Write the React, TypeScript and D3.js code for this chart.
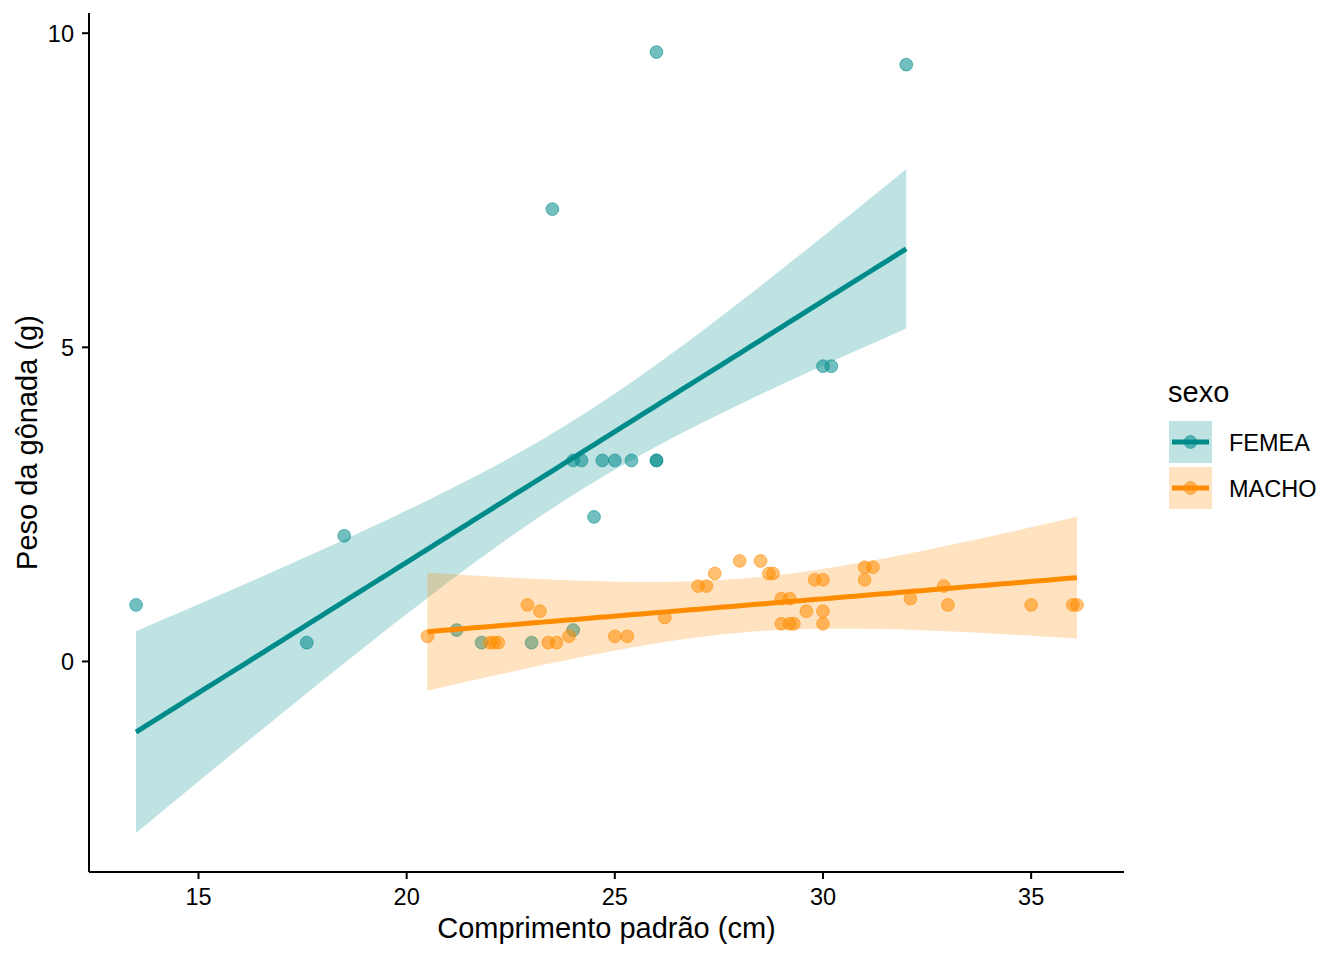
import * as d3 from 'd3'

// Comprimento padrão (cm) x Peso da gônada (g)
const femeaX = [13.5, 17.6, 18.5, 21.2, 21.8, 23.0, 24.0, 23.5, 24.0, 24.2, 24.7, 25.0, 25.4, 26.0, 26.0, 24.5, 26.0, 32.0, 30.0, 30.2]
const femeaY = [0.9, 0.3, 2.0, 0.5, 0.3, 0.3, 0.5, 7.2, 3.2, 3.2, 3.2, 3.2, 3.2, 3.2, 3.2, 2.3, 9.7, 9.5, 4.7, 4.7]

const machoX = [20.5, 22.9, 23.2, 22.0, 22.1, 22.2, 23.4, 23.6, 23.9, 25.0, 25.3, 26.2, 27.0, 27.2, 27.4, 28.0, 28.5, 28.7, 28.8, 29.0, 29.2, 29.0, 29.2, 29.3, 29.6, 29.8, 30.0, 30.0, 30.0, 31.0, 31.2, 31.0, 32.1, 32.9, 33.0, 35.0, 36.0, 36.1]
const machoY = [0.4, 0.9, 0.8, 0.3, 0.3, 0.3, 0.3, 0.3, 0.4, 0.4, 0.4, 0.7, 1.2, 1.2, 1.4, 1.6, 1.6, 1.4, 1.4, 1.0, 1.0, 0.6, 0.6, 0.6, 0.8, 1.3, 1.3, 0.8, 0.6, 1.5, 1.5, 1.3, 1.0, 1.2, 0.9, 0.9, 0.9, 0.9]

const groups = ['FEMEA', 'MACHO']
const colors = ['#008B8B', '#FF8C00']
const xTicks = [15, 20, 25, 30, 35]
const yTicks = [0, 5, 10]

const W = 1344
const H = 960
const panel = { left: 89, right: 1124, top: 13, bottom: 872 }
const FONT = '"Liberation Sans", Arial, Helvetica, sans-serif'

// t quantile (97.5%) via Cornish-Fisher expansion
function tQuant(df: number) {
  const z = 1.959964
  return z + (z ** 3 + z) / (4 * df) + (5 * z ** 5 + 16 * z ** 3 + 3 * z) / (96 * df * df) +
    (3 * z ** 7 + 19 * z ** 5 + 17 * z ** 3 - 15 * z) / (384 * df ** 3)
}

// lm(peso ~ comprimento * sexo): slope per group, one pooled residual variance
function lmFits(sets: { xs: number[]; ys: number[] }[]) {
  let sseAll = 0
  let nAll = 0
  const coefs = sets.map(({ xs, ys }) => {
    const n = xs.length
    const mx = d3.mean(xs)!
    const my = d3.mean(ys)!
    let sxx = 0, sxy = 0
    xs.forEach((x, i) => { sxx += (x - mx) ** 2; sxy += (x - mx) * (ys[i] - my) })
    const b = sxy / sxx
    const a = my - b * mx
    xs.forEach((x, i) => { sseAll += (ys[i] - a - b * x) ** 2 })
    nAll += n
    return { n, mx, sxx, a, b, ext: d3.extent(xs) as [number, number] }
  })
  const df = nAll - 2 * sets.length
  const s = Math.sqrt(sseAll / df)
  const t = tQuant(df)
  return coefs.map(c => d3.range(80).map(i => {
    const x = c.ext[0] + (c.ext[1] - c.ext[0]) * i / 79
    const fit = c.a + c.b * x
    const se = s * Math.sqrt(1 / c.n + (x - c.mx) ** 2 / c.sxx)
    return { x, fit, lo: fit - t * se, hi: fit + t * se }
  }))
}

export default function App() {
  const data = [
    { xs: femeaX, ys: femeaY },
    { xs: machoX, ys: machoY }
  ]
  const fits = lmFits(data)

  const allX = [...femeaX, ...machoX]
  const allY = [...femeaY, ...machoY, ...fits.flat().flatMap(f => [f.lo, f.hi])]
  const [xmin, xmax] = d3.extent(allX) as [number, number]
  const [ymin, ymax] = d3.extent(allY) as [number, number]
  const xe = (xmax - xmin) * 0.05
  const ye = (ymax - ymin) * 0.05

  const x = d3.scaleLinear().domain([xmin - xe, xmax + xe]).range([panel.left, panel.right])
  const y = d3.scaleLinear().domain([ymin - ye, ymax + ye]).range([panel.bottom, panel.top])

  const area = d3.area<{ x: number; lo: number; hi: number }>()
    .x(d => x(d.x)).y0(d => y(d.lo)).y1(d => y(d.hi))
  const line = d3.line<{ x: number; fit: number }>()
    .x(d => x(d.x)).y(d => y(d.fit))

  return (
    <svg width={W} height={H} style={{ position: 'absolute', left: 0, top: 0, background: '#fff' }}
      fontFamily={FONT}>
      <defs>
        <clipPath id="panel">
          <rect x={panel.left} y={panel.top} width={panel.right - panel.left} height={panel.bottom - panel.top} />
        </clipPath>
      </defs>

      <g clipPath="url(#panel)">
        {/* points */}
        {data.map((d, gi) => d.xs.map((v, i) => (
          <circle key={`${gi}-${i}`} cx={x(v)} cy={y(d.ys[i])} r={6.4}
            fill={colors[gi]} fillOpacity={0.55}
            stroke={colors[gi]} strokeOpacity={0.55} strokeWidth={1} />
        )))}
        {/* smooth: ribbon then line, per group */}
        {fits.map((f, gi) => (
          <g key={gi}>
            <path d={area(f)!} fill={colors[gi]} fillOpacity={0.25} />
            <path d={line(f)!} fill="none" stroke={colors[gi]} strokeWidth={5} />
          </g>
        ))}
      </g>

      {/* axes */}
      <line x1={panel.left} x2={panel.left} y1={panel.top} y2={panel.bottom} stroke="#000" strokeWidth={2} />
      <line x1={panel.left} x2={panel.right} y1={panel.bottom} y2={panel.bottom} stroke="#000" strokeWidth={2} />
      {xTicks.map(t => (
        <g key={t}>
          <line x1={x(t)} x2={x(t)} y1={panel.bottom} y2={panel.bottom + 7} stroke="#000" strokeWidth={2} />
          <text x={x(t)} y={905} textAnchor="middle" fontSize={23.5} fill="#000">{t}</text>
        </g>
      ))}
      {yTicks.map(t => (
        <g key={t}>
          <line x1={panel.left - 7} x2={panel.left} y1={y(t)} y2={y(t)} stroke="#000" strokeWidth={2} />
          <text x={74} y={y(t)} dy="0.36em" textAnchor="end" fontSize={23.5} fill="#000">{t}</text>
        </g>
      ))}
      <text x={(panel.left + panel.right) / 2} y={938} textAnchor="middle" fontSize={29} fill="#000">
        Comprimento padrão (cm)
      </text>
      <text transform={`translate(37,${(panel.top + panel.bottom) / 2}) rotate(-90)`} textAnchor="middle"
        fontSize={29} fill="#000">
        Peso da gônada (g)
      </text>

      {/* legend */}
      <text x={1168} y={402} fontSize={29} fill="#000">sexo</text>
      {groups.map((g, i) => {
        const top = 421 + i * 46
        const cy = top + 21
        return (
          <g key={g}>
            <rect x={1169} y={top} width={43} height={42} fill={colors[i]} fillOpacity={0.25} />
            <line x1={1172} x2={1209} y1={cy} y2={cy} stroke={colors[i]} strokeWidth={5} />
            <circle cx={1190.5} cy={cy} r={6.4} fill={colors[i]} fillOpacity={0.55}
              stroke={colors[i]} strokeOpacity={0.55} strokeWidth={1} />
            <text x={1229} y={cy} dy="0.38em" fontSize={23.5} fill="#000">{g}</text>
          </g>
        )
      })}
    </svg>
  )
}
